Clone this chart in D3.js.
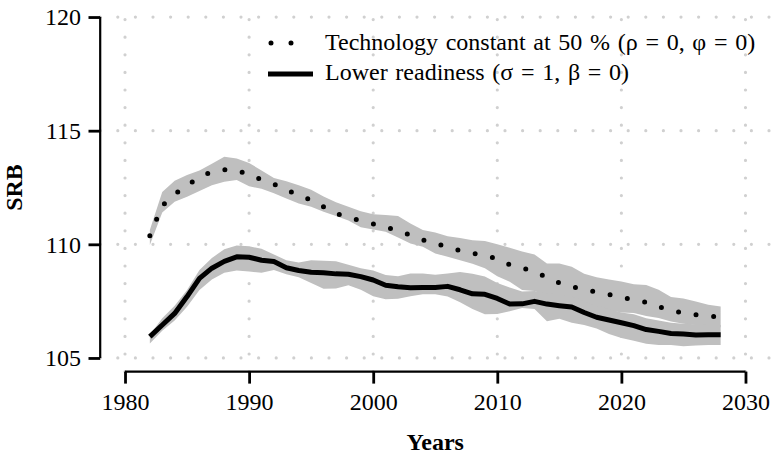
<!DOCTYPE html>
<html><head><meta charset="utf-8">
<script src="https://cdn.jsdelivr.net/npm/d3@7"></script>
<style>body{margin:0;background:#fff}svg{display:block}svg text{font-family:"Liberation Serif","Times New Roman",Times,serif;}</style>
</head><body>
<script>
const years = d3.range(1982, 2029);
const techMid = [110.38,111.7,112.2,112.6,112.95,113.2,113.28,113.27,113.05,112.85,112.65,112.4,112.15,111.95,111.65,111.35,111.2,111.03,110.9,110.75,110.6,110.4,110.2,110.02,109.9,109.72,109.6,109.52,109.35,109.1,108.97,108.78,108.55,108.3,108.15,108.0,107.9,107.8,107.65,107.58,107.45,107.25,107.1,106.98,106.9,106.85,106.8];
const techHi = [110.63,112.3,112.8,113.05,113.25,113.55,113.85,113.78,113.58,113.25,112.92,112.78,112.6,112.4,112.1,111.85,111.65,111.45,111.32,111.29,111.25,110.92,110.63,110.52,110.36,110.28,110.18,110.15,110.0,109.85,109.68,109.55,109.16,109.16,109.01,108.7,108.55,108.45,108.36,108.24,108.21,108.0,107.68,107.62,107.48,107.34,107.26];
const techLo = [109.97,111.4,111.87,112.09,112.35,112.6,112.75,112.83,112.55,112.44,112.25,112.02,111.8,111.65,111.43,111.25,111.05,110.75,110.65,110.55,110.3,110.04,109.89,109.6,109.45,109.3,109.15,108.95,108.6,108.35,107.99,107.95,107.75,107.55,107.45,107.3,107.2,107.1,107.0,106.98,106.85,106.76,106.6,106.5,106.45,106.4,106.35];
const lowMid = [105.94,106.45,106.96,107.7,108.5,108.95,109.25,109.45,109.43,109.3,109.24,108.97,108.85,108.77,108.75,108.7,108.68,108.58,108.43,108.2,108.13,108.09,108.1,108.1,108.15,108.0,107.82,107.8,107.62,107.37,107.38,107.49,107.37,107.3,107.24,107.0,106.79,106.67,106.55,106.42,106.25,106.17,106.08,106.05,106.01,106.02,106.02];
const lowHi = [106.02,106.75,107.3,107.99,108.87,109.4,109.78,109.95,109.92,109.8,109.55,109.3,109.2,109.3,109.28,109.25,109.1,108.95,108.85,108.65,108.6,108.72,108.72,108.66,108.72,108.78,108.7,108.58,108.3,108.1,107.92,107.95,107.85,107.8,107.7,107.5,107.3,107.15,107.0,106.92,106.75,106.65,106.55,106.5,106.48,106.45,106.45];
const lowLo = [105.64,106.2,106.65,107.25,107.99,108.45,108.75,108.85,108.8,108.75,108.87,108.68,108.55,108.3,108.05,108.06,108.2,108.0,107.72,107.58,107.6,107.72,107.8,107.8,107.7,107.45,107.15,106.92,106.93,107.05,107.2,107.15,106.62,106.72,106.55,106.45,106.3,106.05,105.88,105.76,105.62,105.57,105.57,105.52,105.55,105.57,105.57];
const xTicks = [1980,1990,2000,2010,2020,2030];
const yTicks = [105,110,115,120];
const legendLabels = ["Technology constant at 50 % (\u03C1 = 0, \u03C6 = 0)", "Lower readiness (\u03C3 = 1, \u03B2 = 0)"];
const xTitle = "Years", yTitle = "SRB";

const W = 777, H = 459;
const pL = 100.2, pR = 770.3, pT = 3.4, pB = 371.6;
const FS = 24;
const x = d3.scaleLinear().domain([1978, 2032]).range([pL, pR]);
const y = d3.scaleLinear().domain([104.4, 120.6]).range([pB, pT]);

const svg = d3.select("body").append("svg").attr("width", W).attr("height", H);
svg.append("rect").attr("width", W).attr("height", H).attr("fill", "#fff");

const gridColor = "#d0d0d0";
yTicks.forEach(v => {
  svg.append("line").attr("x1", pL).attr("x2", pR).attr("y1", y(v)).attr("y2", y(v))
    .attr("stroke", gridColor).attr("stroke-width", 3.2).attr("stroke-linecap", "round")
    .attr("stroke-dasharray", "0 17.6");
});
xTicks.forEach(v => {
  svg.append("line").attr("x1", x(v)).attr("x2", x(v)).attr("y1", pB).attr("y2", pT)
    .attr("stroke", gridColor).attr("stroke-width", 3.2).attr("stroke-linecap", "round")
    .attr("stroke-dasharray", "0 17.6");
});

const bandColor = "#bfbfbf";
const area = (lo, hi) => d3.area().x((d, i) => x(years[i])).y0((d, i) => y(lo[i])).y1((d, i) => y(hi[i]))(years);
svg.append("path").attr("d", area(techLo, techHi)).attr("fill", bandColor);
svg.append("path").attr("d", area(lowLo, lowHi)).attr("fill", bandColor);

const line = arr => d3.line().x((d, i) => x(years[i])).y((d, i) => y(arr[i]))(years);
svg.append("path").attr("d", line(techMid)).attr("fill", "none").attr("stroke", "#000")
  .attr("stroke-width", 5).attr("stroke-linecap", "round").attr("stroke-dasharray", "0 17.7");
svg.append("path").attr("d", line(lowMid)).attr("fill", "none").attr("stroke", "#000")
  .attr("stroke-width", 5).attr("stroke-linejoin", "round");

const yAxis = d3.axisLeft(y).tickValues(yTicks).tickSize(11.7).tickPadding(7.6).tickFormat(d3.format("d"));
const gy = svg.append("g").attr("transform", `translate(${pL},0)`).call(yAxis);
gy.select(".domain").attr("d", `M0,${y(105)}V${y(120)}`).attr("stroke-width", 2.2);
gy.selectAll(".tick line").attr("stroke-width", 2.8);
gy.selectAll(".tick text").attr("font-size", FS).attr("font-family", "Liberation Serif").attr("fill", "#000");

const xAxis = d3.axisBottom(x).tickValues(xTicks).tickSize(12).tickPadding(9).tickFormat(d3.format("d"));
const gx = svg.append("g").attr("transform", `translate(0,${pB})`).call(xAxis);
gx.select(".domain").attr("d", `M${x(1980)},0H${x(2030)}`).attr("stroke-width", 2.2);
gx.selectAll(".tick line").attr("stroke-width", 2.8);
gx.selectAll(".tick text").attr("font-size", FS).attr("font-family", "Liberation Serif").attr("fill", "#000");

svg.append("text").attr("x", (pL + pR) / 2).attr("y", 450).attr("text-anchor", "middle")
  .attr("font-size", FS).attr("font-weight", "bold").text(xTitle);
svg.append("text").attr("transform", `translate(22,${(pT + pB) / 2}) rotate(-90)`).attr("text-anchor", "middle")
  .attr("font-size", FS).attr("font-weight", "bold").text(yTitle);

const lg = svg.append("g");
lg.append("line").attr("x1", 271).attr("x2", 311).attr("y1", 43).attr("y2", 43)
  .attr("stroke", "#000").attr("stroke-width", 5).attr("stroke-linecap", "round").attr("stroke-dasharray", "0 20");
lg.append("line").attr("x1", 268).attr("x2", 313).attr("y1", 74).attr("y2", 74)
  .attr("stroke", "#000").attr("stroke-width", 5);
legendLabels.forEach((t, i) => {
  lg.append("text").attr("x", 325).attr("y", 50 + i * 30).attr("font-size", FS)
    .attr("word-spacing", 1.7).text(t);
});
</script>
</body></html>
